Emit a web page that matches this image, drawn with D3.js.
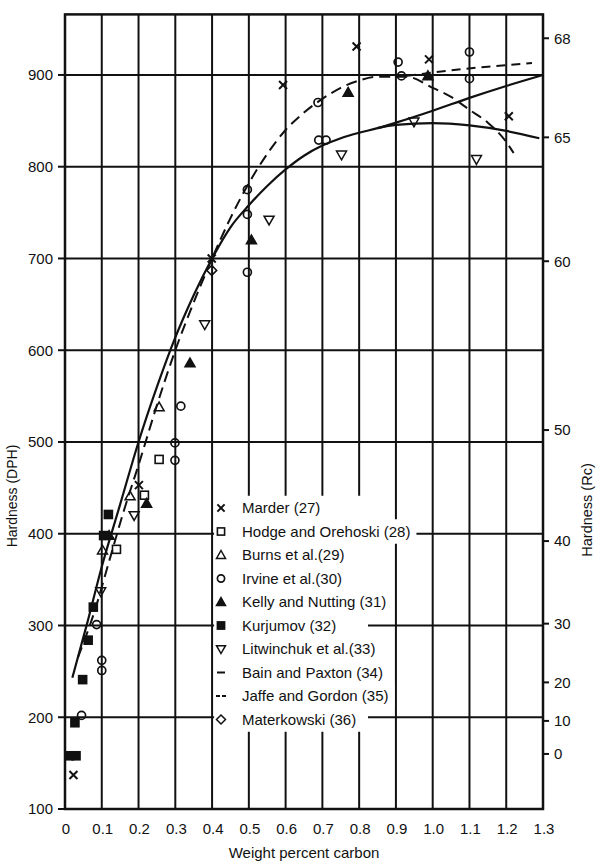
<!DOCTYPE html>
<html>
<head>
<meta charset="utf-8">
<script src="https://cdn.jsdelivr.net/npm/d3@7"></script>
<style>
  body { margin: 0; background: #fff; }
  svg { display: block; font-family: "Liberation Sans", Arial, Helvetica, sans-serif; }
</style>
</head>
<body>
<svg id="chart" width="600" height="866"></svg>
<script>
// --- Données ---
const xTicks = [0, 0.1, 0.2, 0.3, 0.4, 0.5, 0.6, 0.7, 0.8, 0.9, 1.0, 1.1, 1.2, 1.3];
const xTickLabels = ['0', '0.1', '0.2', '0.3', '0.4', '0.5', '0.6', '0.7', '0.8', '0.9', '1.0', '1.1', '1.2', '1.3'];
const dphTicks = [100, 200, 300, 400, 500, 600, 700, 800, 900];
const rcTickLabels = ['68', '65', '60', '50', '40', '30', '20', '10', '0'];
const rcTickDph = [940, 832, 697, 513, 392, 302, 238, 196, 160];

// points [carbone %, DPH]
const marder = [[0.023, 137], [0.201, 453], [0.399, 700], [0.593, 889], [0.793, 931], [0.99, 917], [1.207, 855]];
const hodge = [[0.14, 383], [0.216, 442], [0.256, 481]];
const burns = [[0.102, 382], [0.177, 441], [0.256, 538]];
const irvine = [[0.045, 202], [0.086, 301], [0.1, 251], [0.1, 262], [0.299, 480], [0.299, 499], [0.315, 539],
  [0.496, 685], [0.496, 748], [0.496, 775], [0.688, 870], [0.69, 829], [0.71, 829],
  [0.906, 914], [0.915, 899], [1.10, 896], [1.10, 925]];
const kelly = [[0.12, 398], [0.222, 433], [0.34, 586], [0.507, 720], [0.77, 881], [0.987, 899]];
const kurjumov = [[0.012, 158], [0.03, 158], [0.027, 194], [0.048, 241], [0.063, 284], [0.077, 320], [0.105, 398], [0.118, 421]];
const litwinchuk = [[0.097, 337], [0.188, 420], [0.38, 628], [0.555, 742], [0.752, 813], [0.949, 849], [1.119, 808]];
const materkowski = [[0.399, 687]];

// courbes
const solidRising = [[0.02, 243], [0.06, 302], [0.1, 364], [0.15, 432], [0.2, 500], [0.25, 560], [0.3, 614],
  [0.35, 660], [0.4, 700], [0.45, 734], [0.5, 758], [0.55, 779], [0.6, 797], [0.65, 812], [0.7, 823],
  [0.75, 831], [0.8, 837], [0.85, 842], [0.9, 848], [1.0, 861], [1.1, 875], [1.2, 888], [1.3, 900]];
const solidPeak = [[0.85, 842], [0.9, 845.5], [1.0, 847.5], [1.1, 845], [1.2, 839], [1.29, 831]];
const dashedFall = [[0.035, 265], [0.08, 315], [0.12, 370], [0.16, 425], [0.2, 475], [0.25, 540], [0.3, 600],
  [0.35, 652], [0.4, 700], [0.45, 744], [0.5, 782], [0.55, 814], [0.6, 840], [0.65, 859], [0.7, 874],
  [0.75, 886], [0.8, 894], [0.85, 898], [0.93, 898], [1.0, 886], [1.05, 876], [1.1, 862], [1.15, 848],
  [1.2, 827], [1.22, 815]];
const dashedFlat = [[0.93, 899], [1.05, 905], [1.15, 909], [1.27, 913]];

const legendItems = [
  { sym: 'x', label: 'Marder (27)' },
  { sym: 'square', label: 'Hodge and Orehoski (28)' },
  { sym: 'triangle', label: 'Burns et al.(29)' },
  { sym: 'circle', label: 'Irvine et al.(30)' },
  { sym: 'triangleFilled', label: 'Kelly and Nutting (31)' },
  { sym: 'squareFilled', label: 'Kurjumov (32)' },
  { sym: 'triangleDown', label: 'Litwinchuk et al.(33)' },
  { sym: 'dash', label: 'Bain and Paxton (34)' },
  { sym: 'dash2', label: 'Jaffe and Gordon (35)' },
  { sym: 'diamond', label: 'Materkowski (36)' }
];

// --- Dessin ---
const svg = d3.select('#chart');
const ink = '#111';

const x = d3.scaleLinear().domain([0, 1.3]).range([65, 543]);
const y = d3.scaleLinear().domain([100, 966]).range([809, 14.4]);

// grille
svg.append('g').selectAll('line')
  .data(xTicks.slice(1, -1))
  .join('line')
  .attr('x1', d => x(d)).attr('x2', d => x(d))
  .attr('y1', y(966)).attr('y2', y(100))
  .attr('stroke', ink).attr('stroke-width', 2);

svg.append('g').selectAll('line')
  .data(dphTicks.slice(1))
  .join('line')
  .attr('x1', x(0)).attr('x2', x(1.3))
  .attr('y1', d => y(d)).attr('y2', d => y(d))
  .attr('stroke', ink).attr('stroke-width', 2);

// cadre
svg.append('rect')
  .attr('x', x(0)).attr('y', y(966))
  .attr('width', x(1.3) - x(0)).attr('height', y(100) - y(966))
  .attr('fill', 'none').attr('stroke', ink).attr('stroke-width', 2.5);

// axe gauche
const left = svg.append('g');
left.selectAll('line').data(dphTicks).join('line')
  .attr('x1', x(0) - 7).attr('x2', x(0))
  .attr('y1', d => y(d)).attr('y2', d => y(d))
  .attr('stroke', ink).attr('stroke-width', 2);
left.selectAll('text').data(dphTicks).join('text')
  .attr('x', 53).attr('y', d => y(d)).attr('dy', '0.36em')
  .attr('text-anchor', 'end').style('font-size', '15px').style('fill', ink)
  .text(d => d);

// axe droit (Rc)
const right = svg.append('g');
right.selectAll('line').data(rcTickDph).join('line')
  .attr('x1', x(1.3)).attr('x2', x(1.3) + 6)
  .attr('y1', d => y(d)).attr('y2', d => y(d))
  .attr('stroke', ink).attr('stroke-width', 2);
right.selectAll('text').data(rcTickDph).join('text')
  .attr('x', 554).attr('y', d => y(d)).attr('dy', '0.36em')
  .style('font-size', '15px').style('fill', ink)
  .text((d, i) => rcTickLabels[i]);

// axe bas
svg.append('g').selectAll('text').data(xTicks).join('text')
  .attr('x', d => x(d) + 1).attr('y', 834)
  .attr('text-anchor', 'middle').style('font-size', '15px').style('fill', ink)
  .text((d, i) => xTickLabels[i]);

// titres
svg.append('text')
  .attr('x', 304).attr('y', 858).attr('text-anchor', 'middle')
  .style('font-size', '15px').style('fill', ink)
  .text('Weight percent carbon');

svg.append('text')
  .attr('transform', 'translate(17,496) rotate(-90)')
  .attr('text-anchor', 'middle').style('font-size', '14px').style('fill', ink)
  .text('Hardness (DPH)');

svg.append('text')
  .attr('transform', 'translate(592,510) rotate(-90)')
  .attr('text-anchor', 'middle').style('font-size', '14.5px').style('fill', ink)
  .text('Hardness (Rc)');

// courbes
const line = d3.line().x(d => x(d[0])).y(d => y(d[1])).curve(d3.curveMonotoneX);
const curves = svg.append('g').attr('fill', 'none').attr('stroke', ink);
curves.append('path').attr('d', line(solidRising)).attr('stroke-width', 2.2);
curves.append('path').attr('d', line(solidPeak)).attr('stroke-width', 2.2);
curves.append('path').attr('d', line(dashedFall)).attr('stroke-width', 2).attr('stroke-dasharray', '11,6');
curves.append('path').attr('d', line(dashedFlat)).attr('stroke-width', 2).attr('stroke-dasharray', '9,6');

// symboles
function drawSymbol(g, sym, cx, cy, s) {
  const h = s / 2;
  switch (sym) {
    case 'x':
      g.append('path').attr('d', `M${cx - h * 0.8},${cy - h * 0.8}L${cx + h * 0.8},${cy + h * 0.8}M${cx - h * 0.8},${cy + h * 0.8}L${cx + h * 0.8},${cy - h * 0.8}`)
        .attr('stroke', ink).attr('stroke-width', 2).attr('fill', 'none');
      break;
    case 'square':
    case 'squareFilled':
      g.append('rect').attr('x', cx - h * 0.8).attr('y', cy - h * 0.8).attr('width', h * 1.6).attr('height', h * 1.6)
        .attr('fill', sym === 'squareFilled' ? ink : 'none').attr('stroke', ink).attr('stroke-width', 1.6);
      break;
    case 'circle':
      g.append('circle').attr('cx', cx).attr('cy', cy).attr('r', h * 0.8)
        .attr('fill', 'none').attr('stroke', ink).attr('stroke-width', 1.7);
      break;
    case 'triangle':
    case 'triangleFilled':
      g.append('path').attr('d', `M${cx},${cy - h}L${cx + h},${cy + h * 0.75}L${cx - h},${cy + h * 0.75}Z`)
        .attr('fill', sym === 'triangleFilled' ? ink : 'none').attr('stroke', ink).attr('stroke-width', 1.5);
      break;
    case 'triangleDown':
      g.append('path').attr('d', `M${cx},${cy + h}L${cx + h},${cy - h * 0.75}L${cx - h},${cy - h * 0.75}Z`)
        .attr('fill', 'none').attr('stroke', ink).attr('stroke-width', 1.5);
      break;
    case 'diamond':
      g.append('path').attr('d', `M${cx},${cy - h}L${cx + h},${cy}L${cx},${cy + h}L${cx - h},${cy}Z`)
        .attr('fill', 'none').attr('stroke', ink).attr('stroke-width', 1.5);
      break;
    case 'dash':
      g.append('line').attr('x1', cx - 4).attr('x2', cx + 4).attr('y1', cy).attr('y2', cy)
        .attr('stroke', ink).attr('stroke-width', 2);
      break;
    case 'dash2':
      g.append('line').attr('x1', cx - 5).attr('x2', cx + 5).attr('y1', cy).attr('y2', cy)
        .attr('stroke', ink).attr('stroke-width', 2).attr('stroke-dasharray', '4,2');
      break;
  }
}

const series = [
  [marder, 'x'], [hodge, 'square'], [burns, 'triangle'], [irvine, 'circle'], [kelly, 'triangleFilled'],
  [kurjumov, 'squareFilled'], [litwinchuk, 'triangleDown'], [materkowski, 'diamond']
];
const marks = svg.append('g');
series.forEach(([pts, sym]) => {
  pts.forEach(p => drawSymbol(marks, sym, x(p[0]), y(p[1]), 10));
});

// légende (fond blanc qui coupe la grille)
const legend = svg.append('g');
const rowY0 = 508, rowStep = 23.5, textX = 242;
legendItems.forEach((item, i) => {
  const cy = rowY0 + i * rowStep;
  const bg = legend.append('rect').attr('fill', '#fff');
  const t = legend.append('text')
    .attr('x', textX).attr('y', cy).attr('dy', '0.36em')
    .style('font-size', '15px').style('fill', ink)
    .text(item.label);
  const w = t.node().getComputedTextLength();
  const right = Math.max(textX + w + 6, 368);
  bg.attr('x', x(0.4) + 2).attr('y', cy - rowStep / 2 - 0.5)
    .attr('width', right - x(0.4) - 2).attr('height', rowStep + 1);
  drawSymbol(legend, item.sym, 221, cy, 9);
});
</script>
</body>
</html>
